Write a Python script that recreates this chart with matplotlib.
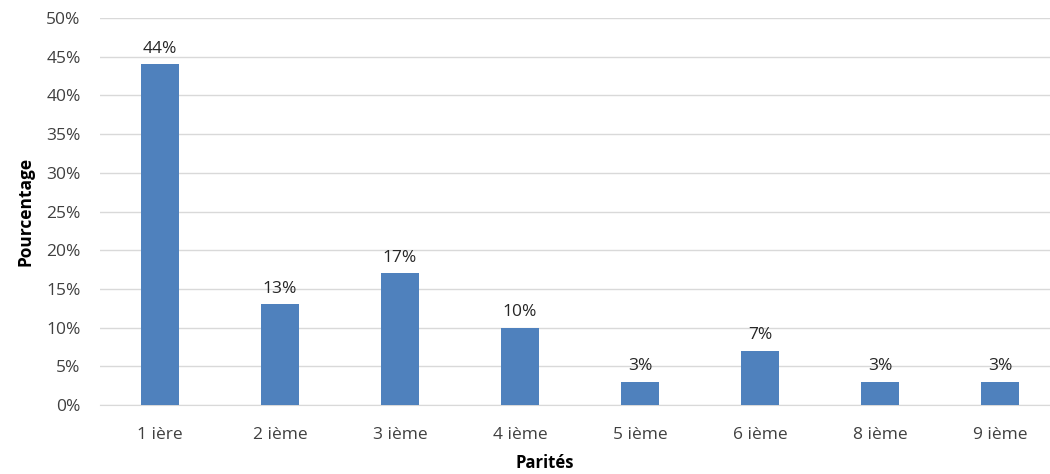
import matplotlib
matplotlib.use("Agg")
import matplotlib.pyplot as plt
from matplotlib.ticker import PercentFormatter, MultipleLocator

categories = ["1 ière", "2 ième", "3 ième", "4 ième", "5 ième", "6 ième", "8 ième", "9 ième"]
values = [44, 13, 17, 10, 3, 7, 3, 3]
value_labels = ["44%", "13%", "17%", "10%", "3%", "7%", "3%", "3%"]

plt.rcParams['font.family'] = ['Open Sans', 'DejaVu Sans']

fig = plt.figure(figsize=(10.5, 4.74), dpi=100)
ax = fig.add_axes([100/1050, 69/474, 950/1050, 387/474])

x = list(range(len(categories)))
bars = ax.bar(x, values, width=0.31, color="#4F81BD", zorder=3)
for b, lab in zip(bars, value_labels):
    ax.text(b.get_x() + b.get_width()/2, b.get_height() + 1.0, lab,
            ha="center", va="bottom", fontsize=12.5, color="#262626")

ax.set_xlim(-0.5, -0.5 + 950/120)
ax.set_ylim(0, 50)
ax.yaxis.set_major_locator(MultipleLocator(5))
ax.yaxis.set_major_formatter(PercentFormatter(decimals=0))
ax.set_xticks(x)
ax.set_xticklabels(categories)
ax.tick_params(axis="both", length=0, labelsize=12.5, colors="#404040")
ax.tick_params(axis="x", pad=16)
ax.tick_params(axis="y", pad=14)
ax.grid(axis="y", color="#D9D9D9", linewidth=1, zorder=0)
for s in ["top", "right", "left"]:
    ax.spines[s].set_visible(False)
ax.spines["bottom"].set_color("#D9D9D9")

ax.set_ylabel("Pourcentage", fontsize=12.5, fontweight="bold", color="black")
ax.yaxis.set_label_coords(-(100-25)/950, 0.5)
ax.yaxis.label.set_va("center")
ax.set_xlabel("Parités", fontsize=12, fontweight="bold", color="black")
ax.xaxis.set_label_coords((545-100)/950, -(463-405)/387)
ax.xaxis.label.set_va("center")

fig.savefig("out.png", dpi=100, facecolor="white")
